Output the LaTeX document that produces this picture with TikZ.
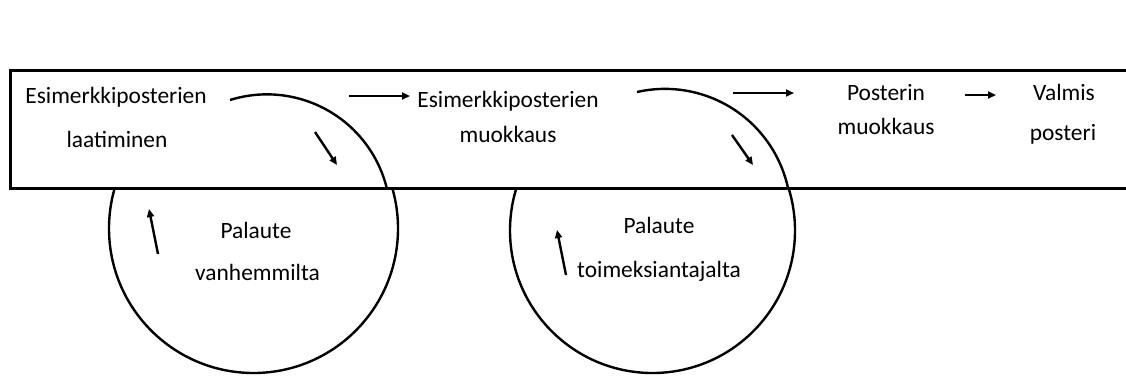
\documentclass[tikz,border=0pt]{standalone}
\usepackage{fontspec}
\setmainfont{Carlito}
\usetikzlibrary{arrows.meta}
\tikzset{
  lbl/.style={anchor=base, inner sep=0pt, font=\fontsize{23.4}{28}\selectfont},
  ring/.style={line width=2.4pt},
  frame/.style={line width=3pt, fill=white},
  flow/.style={line width=2.4pt, -{Triangle[length=8pt,width=7pt]}},
}
\begin{document}
\begin{tikzpicture}[x=1pt, y=-1pt]
  \useasboundingbox (0,0) rectangle (1126,376);
  \clip (0,0) rectangle (1126,376);

  % feedback loops below the band
  \draw[ring] (253.5,228.5) circle[radius=144.5];
  \draw[ring] (652.5,230.5) circle[radius=142.5];

  % process band
  \draw[frame] (10,70) rectangle (1140,188);

  % upper halves of the loops, over the band
  \draw[ring] (230,100) arc[start angle=-107.4, end angle=-13.3, radius=123.5];
  \draw[ring] (637,92) arc[start angle=-102.8, end angle=-11.8, radius=126];

  % step labels
  \node[lbl] (s1a) at (116,103) {Esimerkkiposterien};
  \node[lbl] (s1b) at (117,147) {laatiminen};
  \node[lbl] (s2a) at (508,107) {Esimerkkiposterien};
  \node[lbl] (s2b) at (508,142) {muokkaus};
  \node[lbl] (s3a) at (886,100) {Posterin};
  \node[lbl] (s3b) at (886,134) {muokkaus};
  \node[lbl] (s4a) at (1064,100) {Valmis};
  \node[lbl] (s4b) at (1063,140) {posteri};
  \node[lbl] (f1a) at (256,238) {Palaute};
  \node[lbl] (f1b) at (257.5,280) {vanhemmilta};
  \node[lbl] (f2a) at (659,233) {Palaute};
  \node[lbl] (f2b) at (659,277) {toimeksiantajalta};

  % arrow end points
  \coordinate (a1s) at (349,96);   \coordinate (a1e) at (410,96);
  \coordinate (a2s) at (733,93);   \coordinate (a2e) at (794,93);
  \coordinate (a3s) at (965,95);   \coordinate (a3e) at (996,95);
  \coordinate (d1s) at (315,132);  \coordinate (d1e) at (337,165);
  \coordinate (d2s) at (732,135);  \coordinate (d2e) at (753,165);
  \coordinate (u1s) at (158,254);  \coordinate (u1e) at (149,209);
  \coordinate (u2s) at (566,275);  \coordinate (u2e) at (557,230);

  \draw[flow] (a1s) -- (a1e);
  \draw[flow] (a2s) -- (a2e);
  \draw[flow] (a3s) -- (a3e);
  \draw[flow] (d1s) -- (d1e);
  \draw[flow] (d2s) -- (d2e);
  \draw[flow] (u1s) -- (u1e);
  \draw[flow] (u2s) -- (u2e);
\end{tikzpicture}
\end{document}
